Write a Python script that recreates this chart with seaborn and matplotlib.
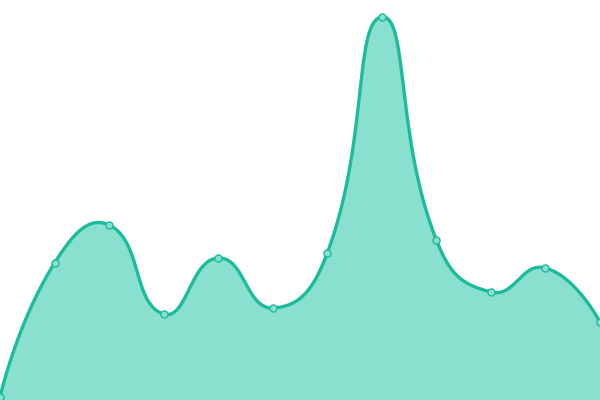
import numpy as np
import pandas as pd
import matplotlib
matplotlib.use("Agg")
import matplotlib.pyplot as plt
import seaborn as sns

# Data
categories = list(range(12))
values = [3, 137, 175, 86, 142, 92, 147, 383, 160, 108, 132, 78]

LINE = "#1abc9c"
FILL = "#89e0cf"

sns.set_theme(style="white")

fig = plt.figure(figsize=(6, 4), dpi=100)
ax = fig.add_axes([0, 0, 1, 1])
ax.set_xlim(0, 11)
ax.set_ylim(0, 400)
ax.axis("off")

# smooth curve (echarts-like bezier, smooth=0.5), computed in pixel space
px = np.array(categories, dtype=float) * 600 / 11
py = np.array(values, dtype=float)
pts = np.column_stack([px, py])
n = len(pts)
cp_in = [None] * n
cp_out = [None] * n
s = 0.5
for i in range(n):
    p = pts[i]
    if i == 0 or i == n - 1:
        cp_in[i] = p.copy()
        cp_out[i] = p.copy()
        continue
    prev, nxt = pts[i - 1], pts[i + 1]
    v = (nxt - prev) * s
    d0 = np.linalg.norm(p - prev)
    d1 = np.linalg.norm(p - nxt)
    tot = d0 + d1
    r0, r1 = d0 / tot, d1 / tot
    cp_in[i] = p - v * r0
    cp_out[i] = p + v * r1

cx, cy = [], []
t = np.linspace(0, 1, 60)
for i in range(n - 1):
    p0, p1, p2, p3 = pts[i], cp_out[i], cp_in[i + 1], pts[i + 1]
    b = ((1 - t) ** 3)[:, None] * p0 + (3 * (1 - t) ** 2 * t)[:, None] * p1 \
        + (3 * (1 - t) * t ** 2)[:, None] * p2 + (t ** 3)[:, None] * p3
    if i > 0:
        b = b[1:]
    cx.extend(b[:, 0] * 11 / 600)
    cy.extend(b[:, 1])

curve = pd.DataFrame({"x": cx, "y": cy})
ax.fill_between(curve["x"], 0, curve["y"], color=FILL, linewidth=0)
sns.lineplot(data=curve, x="x", y="y", sort=False, estimator=None,
             color=LINE, linewidth=2.4, ax=ax)

df = pd.DataFrame({"x": categories, "y": values})
sns.scatterplot(data=df, x="x", y="y", s=26, color=FILL, edgecolor=LINE,
                linewidth=1.0, ax=ax, zorder=5, clip_on=False)

ax.set_xlim(0, 11)
ax.set_ylim(0, 400)
ax.axis("off")
fig.savefig("out.png", dpi=100)
